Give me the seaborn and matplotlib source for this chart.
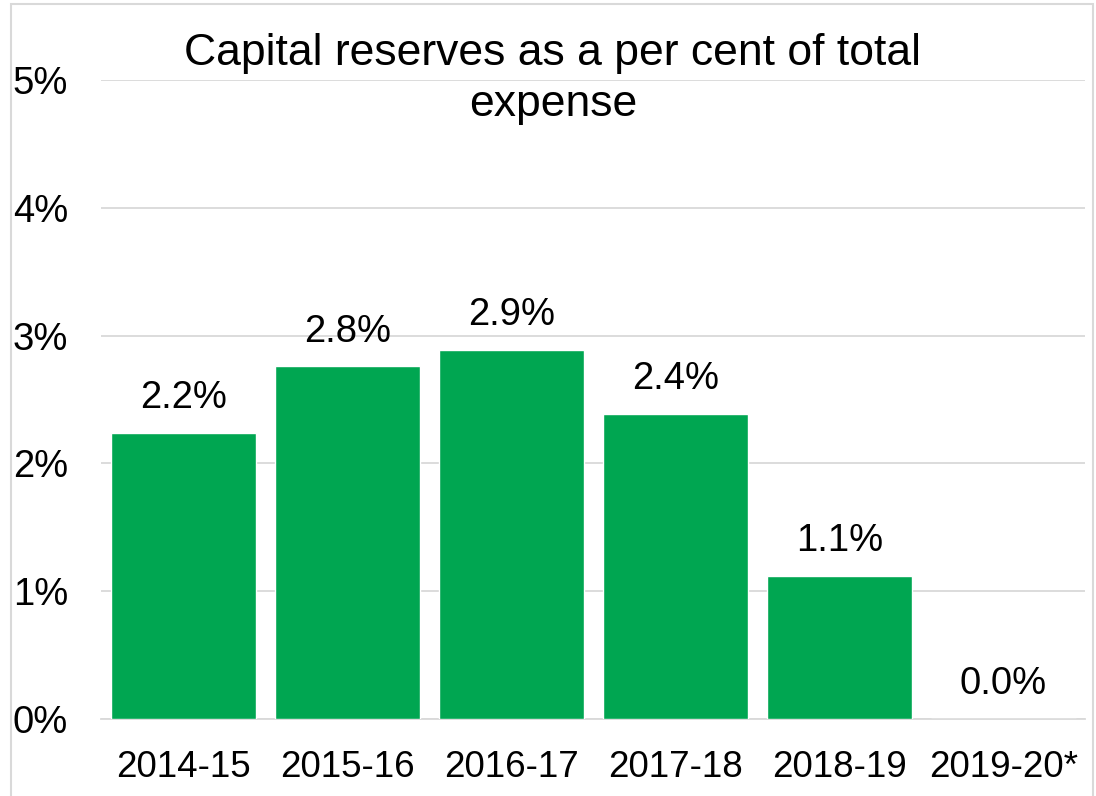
import pandas as pd
import matplotlib.pyplot as plt
import seaborn as sns
from matplotlib.patches import Rectangle

# data
years = ['2014-15', '2015-16', '2016-17', '2017-18', '2018-19', '2019-20*']
reserves_pct = [2.24, 2.76, 2.89, 2.39, 1.12, 0.0]

df = pd.DataFrame({'Year': years, 'Pct': reserves_pct})

sns.set_theme(style="white")
plt.rcParams['font.family'] = ['Liberation Sans', 'DejaVu Sans']
plt.rcParams['text.color'] = 'black'
plt.rcParams['xtick.color'] = 'black'
plt.rcParams['ytick.color'] = 'black'

fig = plt.figure(figsize=(10.96, 7.96), dpi=100)
ax = fig.add_axes([0.0926, 0.0967, 0.8978, 0.8028])

sns.barplot(data=df, x='Year', y='Pct', color='#00A651', width=0.885,
            saturation=1, ax=ax, zorder=3)

ax.set_ylim(0, 5)
ax.set_yticks([0, 1, 2, 3, 4, 5])
ax.set_yticklabels([f'{v}%' for v in range(6)])
ax.yaxis.grid(True, color='#d9d9d9', linewidth=1.3, zorder=0)
ax.set_axisbelow(True)
ax.tick_params(axis='y', length=0, pad=24, labelsize=27.5, labelcolor='black')
ax.tick_params(axis='x', length=0, pad=22, labelsize=26.5, labelcolor='black')
ax.set_xlabel('')
ax.set_ylabel('')
for s in ['top', 'right', 'left']:
    ax.spines[s].set_visible(False)
ax.spines['bottom'].set_color('#d9d9d9')
ax.spines['bottom'].set_linewidth(1.3)

ax.bar_label(ax.containers[0], fmt='%.1f%%', padding=12, fontsize=27.5, color='black')

fig.text(553 / 1096, 1 - 79 / 796, 'Capital reserves as a per cent of total\nexpense',
         ha='center', va='center', fontsize=32, linespacing=1.3, color='black')

fig.patches.append(Rectangle((11 / 1096, -0.02), 1082 / 1096, 1.015,
                             transform=fig.transFigure, fill=False,
                             edgecolor='#d9d9d9', linewidth=1.5))

plt.savefig('out.png', dpi=100)
plt.close()
